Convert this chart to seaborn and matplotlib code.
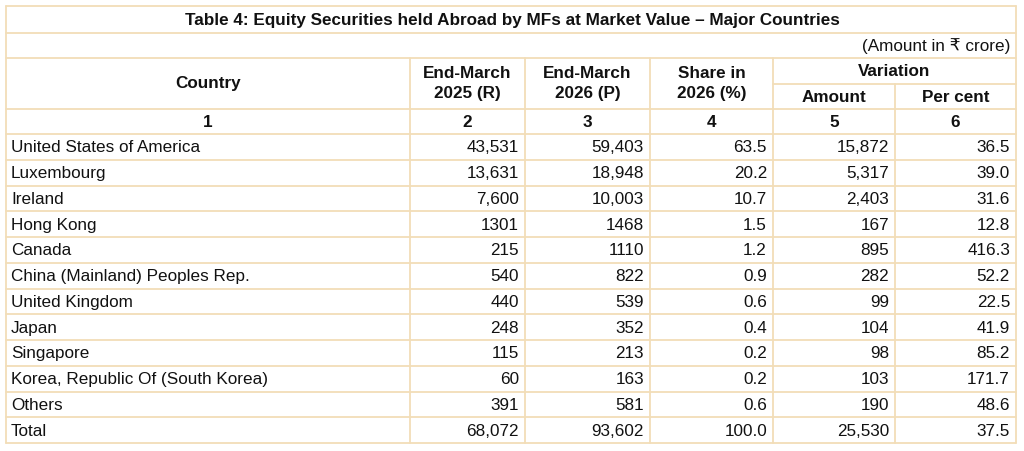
import seaborn as sns
import matplotlib.pyplot as plt

sns.set_style('white')
plt.rcParams['font.family'] = ['Liberation Sans', 'DejaVu Sans']

# Table data
countries = ['United States of America', 'Luxembourg', 'Ireland', 'Hong Kong', 'Canada',
             'China (Mainland) Peoples Rep.', 'United Kingdom', 'Japan', 'Singapore',
             'Korea, Republic Of (South Korea)', 'Others', 'Total']
end_mar_2025 = ['43,531', '13,631', '7,600', '1301', '215', '540', '440', '248', '115', '60', '391', '68,072']
end_mar_2026 = ['59,403', '18,948', '10,003', '1468', '1110', '822', '539', '352', '213', '163', '581', '93,602']
share_2026 = ['63.5', '20.2', '10.7', '1.5', '1.2', '0.9', '0.6', '0.4', '0.2', '0.2', '0.6', '100.0']
var_amount = ['15,872', '5,317', '2,403', '167', '895', '282', '99', '104', '98', '103', '190', '25,530']
var_pct = ['36.5', '39.0', '31.6', '12.8', '416.3', '52.2', '22.5', '41.9', '85.2', '171.7', '48.6', '37.5']
col_numbers = ['1', '2', '3', '4', '5', '6']

title = 'Table 4: Equity Securities held Abroad by MFs at Market Value \u2013 Major Countries'
note = '(Amount in \u20b9 crore)'

fig = plt.figure(figsize=(10.24, 4.51), dpi=100)
ax = fig.add_axes([0, 0, 1, 1])
ax.set_xlim(0, 1024)
ax.set_ylim(451, 0)
ax.axis('off')

line = '#F2DDB8'
fs = 12.3
tc = '#111111'
xs = [6, 410, 525, 650, 773, 895, 1016]
y_title, y_note, y_head, y_mid, y_num, y_data = 6, 33, 58, 84, 109, 134
rh = (443 - y_data) / 12
y_end = y_data + 12 * rh

def hl(y, x0=xs[0], x1=xs[-1]):
    ax.plot([x0, x1], [y, y], color=line, lw=1.3)

def vl(x, y0, y1):
    ax.plot([x, x], [y0, y1], color=line, lw=1.3)

for y in [y_title, y_note, y_head, y_num] + [y_data + i * rh for i in range(13)]:
    hl(y)
hl(y_mid, xs[4], xs[6])
vl(xs[0], y_title, y_end)
vl(xs[-1], y_title, y_end)
for x in xs[1:-1]:
    y0 = y_mid if x == xs[5] else y_head
    vl(x, y0, y_end)

kw = dict(va='center', fontsize=fs, color=tc)
ax.text(512, (y_title + y_note) / 2 + 1, title, ha='center', fontweight='bold', **kw)
ax.text(xs[-1] - 6, (y_note + y_head) / 2 + 1, note, ha='right', **kw)

cx = [(xs[i] + xs[i + 1]) / 2 for i in range(6)]
ax.text(cx[0], (y_head + y_num) / 2, 'Country', ha='center', fontweight='bold', **kw)
for i, lab in [(1, 'End-March\n2025 (R)'), (2, 'End-March\n2026 (P)'), (3, 'Share in\n2026 (%)')]:
    ax.text(cx[i], (y_head + y_num) / 2, lab, ha='center', fontweight='bold', linespacing=1.45, **kw)
ax.text((xs[4] + xs[6]) / 2, (y_head + y_mid) / 2, 'Variation', ha='center', fontweight='bold', **kw)
ax.text(cx[4], (y_mid + y_num) / 2 + 1, 'Amount', ha='center', fontweight='bold', **kw)
ax.text(cx[5], (y_mid + y_num) / 2 + 1, 'Per cent', ha='center', fontweight='bold', **kw)
for i, n in enumerate(col_numbers):
    ax.text(cx[i], (y_num + y_data) / 2 + 1, n, ha='center', fontweight='bold', **kw)

cols = [end_mar_2025, end_mar_2026, share_2026, var_amount, var_pct]
for r, name in enumerate(countries):
    yc = y_data + (r + 0.5) * rh + 1
    ax.text(xs[0] + 5, yc, name, ha='left', **kw)
    for j, col in enumerate(cols):
        ax.text(xs[j + 2] - 6, yc, col[r], ha='right', **kw)

fig.savefig('out.png', dpi=100)
